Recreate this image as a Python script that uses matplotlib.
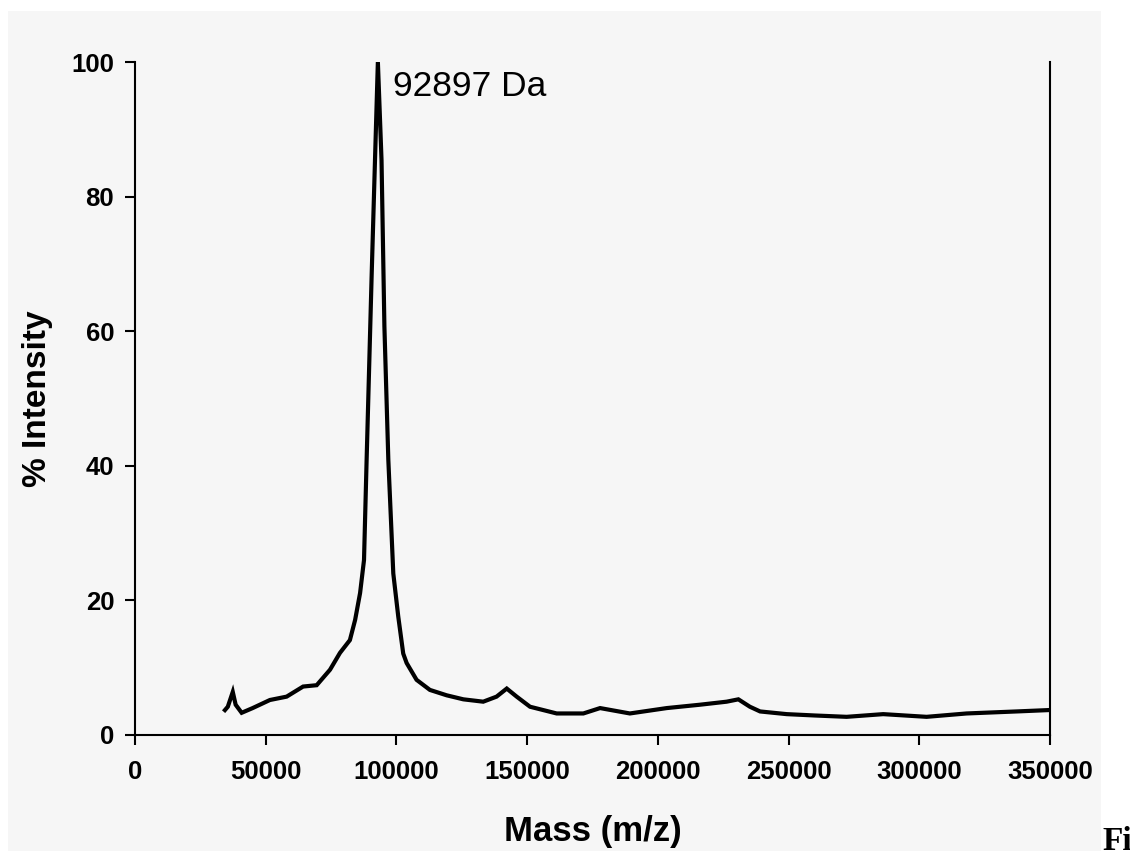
import matplotlib.pyplot as plt
from matplotlib.patches import Rectangle

# values
mass = [34400, 35500, 37400, 38500, 40800, 45000, 51600, 58000, 64300, 69500,
        74600, 78400, 82200, 84200, 86100, 87600, 88600, 90500, 91800, 92900,
        94300, 95400, 96900, 98800, 100700, 102600, 103900, 107700, 112800, 119200,
        125600, 133200, 138300, 142200, 146000, 151100, 161300, 171500, 177900, 189300,
        203400, 216100, 226300, 230800, 235200, 239100, 249300, 260000, 272200, 286200,
        302800, 318100, 337200, 349300]
intensity = [3.7, 4.2, 6.4, 4.5, 3.3, 4.0, 5.2, 5.7, 7.2, 7.4,
             9.7, 12.2, 14.1, 17.1, 21.1, 26.0, 40.9, 68.0, 85.4, 100.0,
             85.4, 60.7, 40.9, 24.0, 17.6, 12.1, 10.7, 8.2, 6.7, 5.9,
             5.3, 4.95, 5.7, 6.9, 5.7, 4.2, 3.2, 3.2, 4.0, 3.2,
             4.0, 4.5, 4.95, 5.3, 4.2, 3.5, 3.1, 2.9, 2.7, 3.1,
             2.7, 3.2, 3.5, 3.7]
xticks = [0, 50000, 100000, 150000, 200000, 250000, 300000, 350000]
yticks = [0, 20, 40, 60, 80, 100]
peak_label = "92897 Da"

plt.rcParams['font.family'] = ['Liberation Sans', 'DejaVu Sans']

fig = plt.figure(figsize=(11.3, 8.52), dpi=100, facecolor='white')
# grey panel behind the chart
fig.patches.append(Rectangle((8 / 1130, 1 / 852), 1093 / 1130, 840 / 852,
                             transform=fig.transFigure, facecolor='#f6f6f6',
                             edgecolor='none', zorder=-10))

ax = fig.add_axes([135 / 1130, 1 - 735 / 852, 915 / 1130, 673 / 852])
ax.set_facecolor('none')

ax.plot(mass, intensity, color='black', linewidth=3.0, solid_joinstyle='miter')

ax.set_xlim(0, 350000)
ax.set_ylim(0, 100)
ax.set_xticks(xticks)
ax.set_yticks(yticks)
ax.tick_params(axis='both', direction='out', length=7, width=1.5, labelsize=18.5)
ax.tick_params(axis='x', pad=11)
ax.tick_params(axis='y', pad=8)
for lab in ax.get_xticklabels() + ax.get_yticklabels():
    lab.set_fontweight('bold')

ax.spines['top'].set_visible(False)
for side in ['left', 'bottom', 'right']:
    ax.spines[side].set_linewidth(1.5)

ax.set_xlabel("Mass (m/z)", fontsize=25, fontweight='bold', labelpad=22)
ax.set_ylabel("% Intensity", fontsize=24, fontweight='bold', labelpad=13)

ax.text(98700, 94.9, peak_label, fontsize=25.5, va='baseline', ha='left')

fig.text(1102 / 1130, 2 / 852, "Fi", fontsize=24, fontweight='bold',
         family=['Liberation Serif', 'DejaVu Serif'], va='baseline', ha='left')

fig.savefig("out.png", dpi=100, facecolor='white')
